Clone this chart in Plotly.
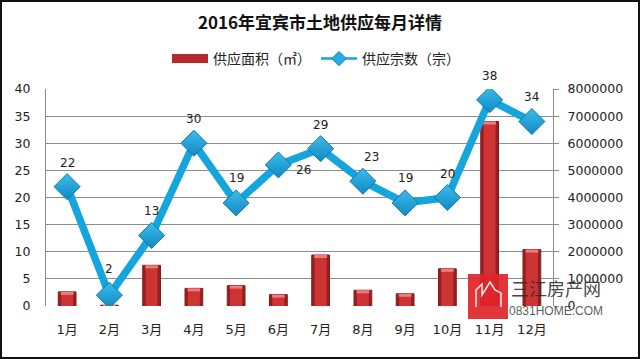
import plotly.graph_objects as go

months = ["1月","2月","3月","4月","5月","6月","7月","8月","9月","10月","11月","12月"]
area = [520000,30000,1500000,650000,750000,420000,1880000,580000,450000,1370000,6800000,2080000]
counts = [22,2,13,30,19,26,29,23,19,20,38,34]
label_dx = [0,0,0,0,0,25,0,9,0,0,0,0]
label_dy = [24,26,24,24,25,-5,24,24,25,24,24,25]
left_ticks = [0,5,10,15,20,25,30,35,40]
right_ticks = [0,1000000,2000000,3000000,4000000,5000000,6000000,7000000,8000000]
FONT = "DejaVu Sans, Noto Sans CJK SC, sans-serif"
CJK = "Noto Sans CJK SC, sans-serif"

L, R, T, B = 46, 553, 89, 306
def px(x): return (x - L) / (R - L)
def py(y): return (B - y) / (B - T)

cap = 110000
fig = go.Figure()
fig.add_bar(x=months, y=area, yaxis="y2", width=0.42, showlegend=False,
            marker=dict(color="#9c1f1f", line=dict(color="#7e1a1c", width=1)))
fig.add_bar(x=months, y=area, yaxis="y2", width=0.28, showlegend=False, hoverinfo="skip",
            marker=dict(color="#cf3434", line_width=0))
fig.add_bar(x=months, y=[min(cap, a) for a in area], base=[max(a - cap, 0) for a in area], yaxis="y2",
            width=0.3, showlegend=False, hoverinfo="skip", marker=dict(color="#ee7c7c", line_width=0))
fig.add_scatter(x=[None], y=[None], yaxis="y2", mode="lines", name="供应面积（㎡）",
                line=dict(color="#b52a2b", width=9))
fig.add_scatter(x=months, y=counts, yaxis="y", mode="lines", showlegend=False,
                line=dict(color="#13a5dc", width=7.5))
fig.add_scatter(x=months, y=counts, yaxis="y", mode="markers", showlegend=False,
                marker=dict(symbol="diamond", size=20, color="#3dbcec",
                            gradient=dict(type="vertical", color="#1189c4"),
                            line=dict(color="#1278a8", width=1)))
fig.add_scatter(x=[None], y=[None], yaxis="y", mode="lines+markers", name="供应宗数（宗）",
                line=dict(color="#13a5dc", width=2.5),
                marker=dict(symbol="diamond", size=11, color="#22ade4", line=dict(color="#1583b5", width=1)))

ann = [dict(x=m, y=c, xref="x", yref="y", text=str(c), showarrow=False, xshift=dx, yshift=dy,
            font=dict(size=12, color="#222", family=FONT))
       for m, c, dx, dy in zip(months, counts, label_dx, label_dy)]
ann += [
    dict(xref="paper", yref="paper", x=px(556), y=py(288), text="三江房产网", showarrow=False,
         font=dict(size=18, color="rgba(45,45,45,0.9)", family=CJK), xanchor="center", yanchor="middle"),
    dict(xref="paper", yref="paper", x=px(556), y=py(311), text="0831HOME.COM", showarrow=False,
         font=dict(size=12, color="rgba(60,60,60,0.85)", family="Liberation Sans Narrow, Liberation Sans"),
         xanchor="center", yanchor="middle"),
]
skyline = [(476,307),(476,290),(482,284),(482,295),(490,282),(495,290),(501,293),(501,307)]
path = "M " + " L ".join(f"{px(x)} {py(y)}" for x, y in skyline)
shapes = [
    dict(type="rect", xref="paper", yref="paper", x0=px(1), x1=px(639), y0=py(358), y1=py(1),
         line=dict(color="#111", width=2), layer="below"),
    dict(type="rect", xref="paper", yref="paper", x0=px(468), x1=px(508), y0=py(319), y1=py(274),
         fillcolor="rgba(224,36,40,0.92)", line_width=0, layer="above"),
    dict(type="path", xref="paper", yref="paper", path=path,
         line=dict(color="rgba(255,255,255,0.9)", width=1.5), layer="above"),
]
fig.update_layout(
    width=640, height=359, paper_bgcolor="white", plot_bgcolor="white",
    margin=dict(l=L, r=640-R, t=T, b=359-B, autoexpand=False), barmode="overlay",
    font=dict(family=FONT, size=12.5, color="#222"),
    title=dict(text="<b>2016年宜宾市土地供应每月详情</b>", x=px(320), xanchor="center", xref="paper",
               y=1-23/359, yanchor="middle", yref="container",
               font=dict(size=17, color="#111", family=CJK)),
    legend=dict(orientation="h", x=px(316), xanchor="center", y=py(59), yanchor="middle",
                font=dict(size=14, family=CJK), bgcolor="rgba(0,0,0,0)", itemwidth=36),
    xaxis=dict(automargin=False, showgrid=False, showline=False, ticks="", type="category",
               categoryorder="array", categoryarray=months, range=[-0.5, 11.5],
               ticklabelstandoff=14, tickfont=dict(size=13, family=FONT)),
    yaxis=dict(automargin=False, range=[0, 40], tickvals=left_ticks, showgrid=True, gridcolor="#8c8c8c",
               gridwidth=1, showline=True, linecolor="#8c8c8c", ticks="", zeroline=False,
               overlaying="y2", ticklabelstandoff=12),
    yaxis2=dict(automargin=False, range=[0, 8000000], tickvals=right_ticks, side="right", showgrid=False,
                showline=True, linecolor="#8c8c8c", ticks="outside", ticklen=5, tickcolor="#8c8c8c",
                tickformat="d", zeroline=False, ticklabelstandoff=6),
    annotations=ann, shapes=shapes,
)
fig.write_html("out.html", config=dict(displayModeBar=False),
               post_script="document.body.style.margin='0';document.body.style.overflow='hidden';")
